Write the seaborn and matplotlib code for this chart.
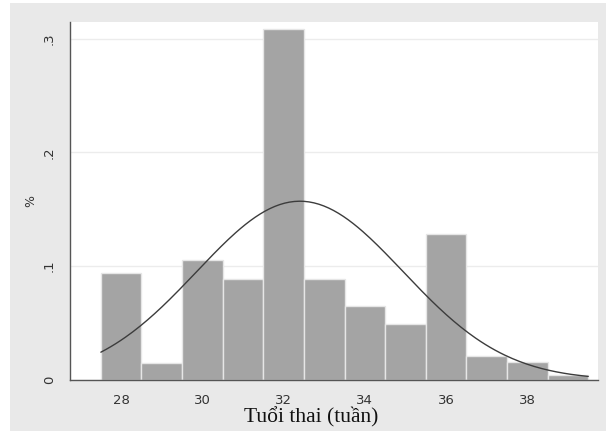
import numpy as np
import matplotlib
matplotlib.use("Agg")
import matplotlib.pyplot as plt
import seaborn as sns
from matplotlib.patches import Rectangle

# ---------------- Data ----------------
bin_edges = [27.5, 28.5, 29.5, 30.5, 31.5, 32.5, 33.5, 34.5, 35.5, 36.5, 37.5, 38.5, 39.5]
bin_centers = [28, 29, 30, 31, 32, 33, 34, 35, 36, 37, 38, 39]
shares = [0.094, 0.015, 0.105, 0.089, 0.308, 0.089, 0.065, 0.049, 0.128, 0.021, 0.016, 0.0045]

# fitted normal curve (mean / sd of gestational age)
fit_mean = 32.4
fit_sd = 2.54

x_ticks = [28, 30, 32, 34, 36, 38]
y_ticks = [0, 0.1, 0.2, 0.3]
y_tick_labels = ["0", ".1", ".2", ".3"]

# ---------------- Plot ----------------
sns.set_style("white")
fig = plt.figure(figsize=(6.11, 4.37), dpi=100, facecolor="white")
fig.patches.append(Rectangle((10 / 611, 6 / 437), 596 / 611, 428 / 437,
                             transform=fig.transFigure, facecolor="#e9e9e9",
                             edgecolor="none", zorder=-10))
ax = fig.add_axes([70 / 611, 1 - 380 / 437, 528 / 611, 358 / 437])
ax.set_facecolor("white")

sns.histplot(x=bin_centers, weights=shares, bins=bin_edges, stat="count",
             color="#a4a4a4", edgecolor="#e6e6e6", linewidth=1.0, alpha=1,
             ax=ax, zorder=2)

xs = np.linspace(bin_edges[0], bin_edges[-1], 200)
ys = np.exp(-0.5 * ((xs - fit_mean) / fit_sd) ** 2) / (fit_sd * np.sqrt(2 * np.pi))
sns.lineplot(x=xs, y=ys, color="#3c3c3c", linewidth=1.0, ax=ax, zorder=3)

ax.set_xlim(26.74, 39.74)
ax.set_ylim(0, 0.3145)
ax.set_xticks(x_ticks)
ax.set_xticklabels([str(t) for t in x_ticks], fontsize=9.5, color="#333333")
ax.set_yticks(y_ticks)
ax.set_yticklabels(y_tick_labels, fontsize=9.5, color="#333333", rotation=90, va="center")
ax.tick_params(axis="both", direction="out", length=4, width=0.8, color="#444444", pad=6)

ax.grid(axis="y", color="#ececec", linewidth=1.0, zorder=0)
ax.set_axisbelow(True)
for side in ["top", "right"]:
    ax.spines[side].set_visible(False)
for side in ["left", "bottom"]:
    ax.spines[side].set_color("#555555")
    ax.spines[side].set_linewidth(1.0)

ax.set_ylabel("%", fontsize=9, color="#333333", labelpad=4)
ax.set_xlabel("Tuổi thai (tuần)", fontsize=15.5, family="Liberation Serif",
              color="#111111")
ax.xaxis.set_label_coords(0.456, -0.105, transform=ax.transAxes)
ax.xaxis.label.set_va("center")

fig.savefig("out.png", dpi=100, facecolor=fig.get_facecolor())
